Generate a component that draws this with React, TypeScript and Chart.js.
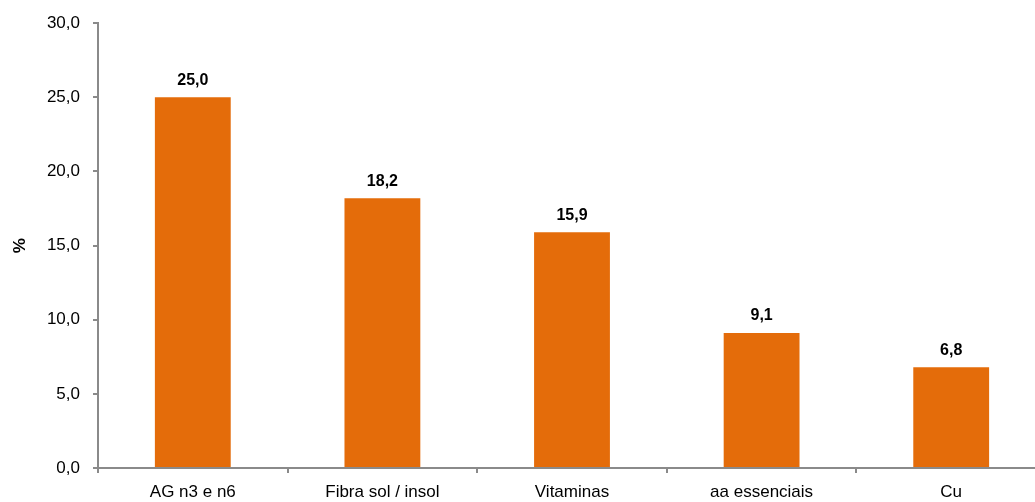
import React, { useEffect, useRef } from "react";
import { Chart, registerables } from "chart.js";

Chart.register(...registerables);

const categories = ["AG n3 e n6", "Fibra sol / insol", "Vitaminas", "aa essenciais", "Cu"];
const values = [25.0, 18.2, 15.9, 9.1, 6.8];
const yTitle = "%";

const fmt = (v: number) => v.toFixed(1).replace(".", ",");

const FONT = "'Liberation Sans', Arial, Helvetica, sans-serif";
const AXIS_COLOR = "#8a8a8a";
const BAR_COLOR = "#E46C0A";

const dataLabelPlugin = {
  id: "dataLabels",
  afterDatasetsDraw(chart: any) {
    const ctx = chart.ctx;
    const meta = chart.getDatasetMeta(0);
    ctx.save();
    ctx.font = `bold 16px ${FONT}`;
    ctx.fillStyle = "#000";
    ctx.textAlign = "center";
    ctx.textBaseline = "bottom";
    meta.data.forEach((bar: any, i: number) => {
      ctx.fillText(fmt(values[i]), bar.x, bar.y - 9);
    });
    ctx.restore();
  },
};

export default function App() {
  const ref = useRef<HTMLCanvasElement>(null);
  useEffect(() => {
    if (!ref.current) return;
    const chart = new Chart(ref.current, {
      type: "bar",
      data: {
        labels: categories,
        datasets: [
          {
            data: values,
            backgroundColor: BAR_COLOR,
            borderWidth: 0,
            categoryPercentage: 1,
            barPercentage: 0.4,
          },
        ],
      },
      options: {
        responsive: false,
        animation: false,
        devicePixelRatio: 1,
        layout: { padding: { top: 22, right: 4, left: 0, bottom: 0 } },
        plugins: { legend: { display: false }, tooltip: { enabled: false } },
        scales: {
          x: {
            offset: true,
            grid: {
              display: true,
              drawOnChartArea: false,
              drawTicks: true,
              tickLength: 5,
              color: AXIS_COLOR,
              lineWidth: 2,
              offset: true,
            },
            border: { display: true, color: AXIS_COLOR, width: 2 },
            ticks: {
              color: "#000",
              font: { family: FONT, size: 17 },
              padding: 9,
              maxRotation: 0,
              autoSkip: false,
            },
            afterFit: (s: any) => {
              s.height = 34;
            },
          },
          y: {
            min: 0,
            max: 30,
            grid: {
              display: true,
              drawOnChartArea: false,
              drawTicks: true,
              tickLength: 5,
              color: AXIS_COLOR,
              lineWidth: 2,
            },
            border: { display: true, color: AXIS_COLOR, width: 2 },
            ticks: {
              stepSize: 5,
              color: "#000",
              font: { family: FONT, size: 17 },
              padding: 13,
              callback: (v: any) => fmt(Number(v)),
            },
            title: {
              display: true,
              text: yTitle,
              color: "#000",
              font: { family: FONT, size: 17, weight: "bold" },
              padding: { top: 10, bottom: 0 },
            },
            afterFit: (s: any) => {
              s.width = 98;
            },
          },
        },
      },
      plugins: [dataLabelPlugin],
    });
    return () => chart.destroy();
  }, []);

  return (
    <div
      style={{
        position: "fixed",
        left: 0,
        top: 0,
        width: 1035,
        height: 502,
        overflow: "hidden",
        background: "#fff",
      }}
    >
      <canvas ref={ref} width={1050} height={502} style={{ display: "block" }} />
    </div>
  );
}
